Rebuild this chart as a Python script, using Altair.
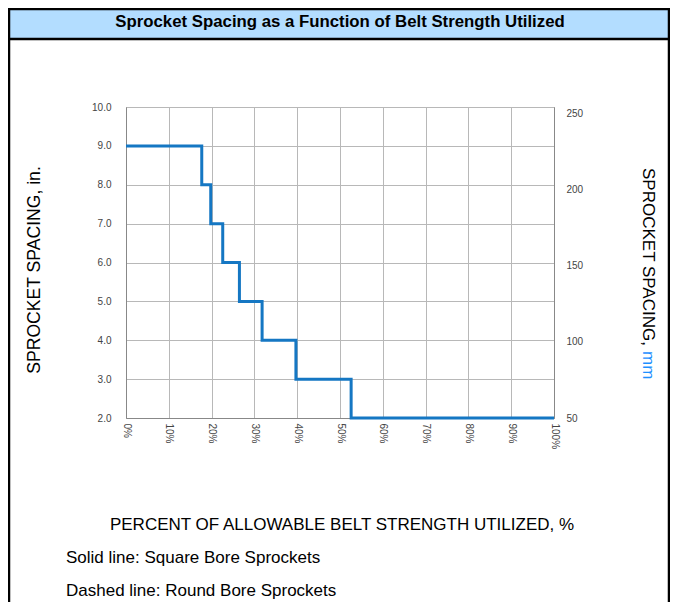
import altair as alt
import pandas as pd

# Data (step curve, square bore sprockets)
pct_utilized = [0, 17.7, 19.8, 22.6, 26.5, 31.8, 39.7, 52.6, 100]
spacing_in = [9, 8, 7, 6, 5, 4, 3, 2, 2]
x_ticks = [0, 10, 20, 30, 40, 50, 60, 70, 80, 90, 100]
y_in_ticks = [2, 3, 4, 5, 6, 7, 8, 9, 10]
y_mm_ticks = [50, 100, 150, 200, 250]

title_text = "Sprocket Spacing as a Function of Belt Strength Utilized"
left_title = "SPROCKET SPACING, in."
right_title_a = "SPROCKET SPACING,"
right_title_b = "mm"
x_title = "PERCENT OF ALLOWABLE BELT STRENGTH UTILIZED, %"
note1 = "Solid line: Square Bore Sprockets"
note2 = "Dashed line: Round Bore Sprockets"

df = pd.DataFrame({"pct": pct_utilized, "inch": spacing_in})
df["mm"] = df["inch"] * 25.4

FONT = "Liberation Sans"
W, H = 428, 311


def xenc():
    return alt.X(
        "pct:Q",
        scale=alt.Scale(domain=[0, 100], nice=False),
        axis=alt.Axis(values=x_ticks, labelExpr="datum.value + '%'", labelAngle=90,
                      title=None, ticks=False, labelPadding=5, grid=True),
    )


line = alt.Chart(df).mark_line(interpolate="step-after", color="#1577c3", strokeWidth=3).encode(
    x=xenc(),
    y=alt.Y("inch:Q", scale=alt.Scale(domain=[2, 10], nice=False),
            axis=alt.Axis(values=y_in_ticks, format=".1f", title=None, orient="left",
                          ticks=False, labelPadding=15, grid=True)),
)

right = alt.Chart(df).mark_line(opacity=0).encode(
    x=xenc(),
    y=alt.Y("mm:Q", scale=alt.Scale(domain=[50, 254], nice=False, zero=False),
            axis=alt.Axis(values=y_mm_ticks, format="d", title=None, orient="right",
                          ticks=False, labelPadding=12, grid=False)),
)

one = pd.DataFrame({"k": [0]})

frame = alt.Chart(one).mark_rect(fill="white", fillOpacity=0, stroke="black", strokeWidth=2.5).encode(
    x=alt.value(-117), x2=alt.value(543), y=alt.value(-98), y2=alt.value(520))
title_bar = alt.Chart(one).mark_rect(fill="#b3ddff", stroke="black", strokeWidth=2.5).encode(
    x=alt.value(-117), x2=alt.value(543), y=alt.value(-98), y2=alt.value(-68))


def txt(s, x, y, size=17, angle=0, align="center", bold=False, color="black"):
    return alt.Chart(one).mark_text(
        text=s, font=FONT, fontSize=size, angle=angle, align=align, baseline="middle",
        fontWeight="bold" if bold else "normal", color=color,
    ).encode(x=alt.value(x), y=alt.value(y))


texts = [
    txt(title_text, 214, -85, size=16.8, bold=True),
    txt(left_title, -91, 163, size=17.6, angle=270),
    txt(right_title_a, 522, 61, angle=90, align="left"),
    txt(right_title_b, 522, 244, angle=90, align="left", color="#1e90ff"),
    txt(x_title, 216, 418),
    txt(note1, -60, 451, align="left"),
    txt(note2, -60, 484, align="left"),
]

chart = alt.layer(frame, title_bar, line, right, *texts).resolve_scale(y="independent").properties(
    width=W, height=H,
    autosize="none",
    padding={"left": 118, "top": 99, "right": 116, "bottom": 184},
).configure_view(stroke="#888", strokeWidth=1).configure_axis(
    labelFont=FONT, labelFontSize=10, labelColor="#444",
    gridColor="#b8b8b8", gridWidth=1, domainColor="#888", domainWidth=1,
)

chart.save("out.html", embed_options={"renderer": "svg", "actions": False})
